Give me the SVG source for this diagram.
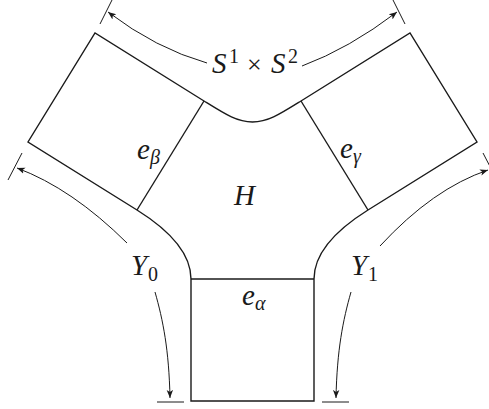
<svg xmlns="http://www.w3.org/2000/svg" width="489" height="409" viewBox="0 0 489 409">
<style>
.ln{fill:none;stroke:#1a1a1a;stroke-width:1.4;stroke-linejoin:miter}
.ar{fill:none;stroke:#1a1a1a;stroke-width:1}
.tk{fill:none;stroke:#1a1a1a;stroke-width:1}
.m{font-family:"Liberation Serif",serif;font-style:italic;font-size:29px;fill:#1a1a1a}
.s{font-family:"Liberation Serif",serif;font-style:italic;font-size:20px;fill:#1a1a1a}
.r{font-family:"Liberation Serif",serif;font-size:20px;fill:#1a1a1a}
.o{font-family:"Liberation Serif",serif;font-size:26px;fill:#1a1a1a}
</style>
<defs>
<marker id="ah" markerWidth="10" markerHeight="8" refX="8" refY="4" orient="auto" markerUnits="userSpaceOnUse">
<path d="M0,0.8 L8,4 L0,7.2 L2,4 Z" fill="#1a1a1a"/>
</marker>
</defs>
<g id="shape">
<path class="ln" d="M137,210 L28,142 L95,33 L204,101 C225.2,114.2 237,122 252.5,122 C268,122 279.8,114.2 301,101 L410,33 L477,142 L368,210 C342.6,225.9 314,249 314,279 L314,401 L191,401 L191,279 C191,249 162.4,225.9 137,210 Z"/>
</g>
<g id="e_beta">
<line class="ln" x1="204" y1="101" x2="137" y2="210"/>
<text class="m" x="137" y="159">e</text><text class="s" x="150" y="164">β</text>
</g>
<g id="e_gamma">
<line class="ln" x1="301" y1="101" x2="368" y2="210"/>
<text class="m" x="340" y="158">e</text><text class="s" x="353" y="163">γ</text>
</g>
<g id="e_alpha">
<line class="ln" x1="191" y1="279" x2="314" y2="279"/>
<text class="m" x="242" y="305">e</text><text class="s" x="255" y="310">α</text>
</g>
<g id="H">
<text class="m" x="234" y="205">H</text>
</g>
<g id="connectors">
<path class="ar" d="M207,63 Q156,48.5 108,12" marker-end="url(#ah)"/>
<path class="ar" d="M302,66 Q349,48.5 397,12" marker-end="url(#ah)"/>
<path class="ar" d="M127,243 Q72,188.5 17,168" marker-end="url(#ah)"/>
<path class="ar" d="M380,246 Q433,188.5 488,170" marker-end="url(#ah)"/>
<path class="ar" d="M155,292 C163,320 169,350 170,398" marker-end="url(#ah)"/>
<path class="ar" d="M351,292 C343,320 337,350 336,398" marker-end="url(#ah)"/>
<line class="tk" x1="100" y1="24" x2="112" y2="0"/>
<line class="tk" x1="393" y1="0" x2="405" y2="24"/>
<line class="tk" x1="8" y1="180" x2="22" y2="153"/>
<line class="tk" x1="483" y1="153" x2="497" y2="180"/>
<line class="tk" x1="157" y1="402" x2="184" y2="402"/>
<line class="tk" x1="322" y1="402" x2="349" y2="402"/>
</g>
<g id="labels">
<text class="m" x="212" y="73">S</text><text class="r" x="229" y="63">1</text>
<text class="o" x="247" y="73">×</text>
<text class="m" x="271" y="73">S</text><text class="r" x="288" y="63">2</text>
<text class="m" x="131" y="275">Y</text><text class="r" x="148" y="281">0</text>
<text class="m" x="351" y="275">Y</text><text class="r" x="368" y="281">1</text>
</g>
</svg>
